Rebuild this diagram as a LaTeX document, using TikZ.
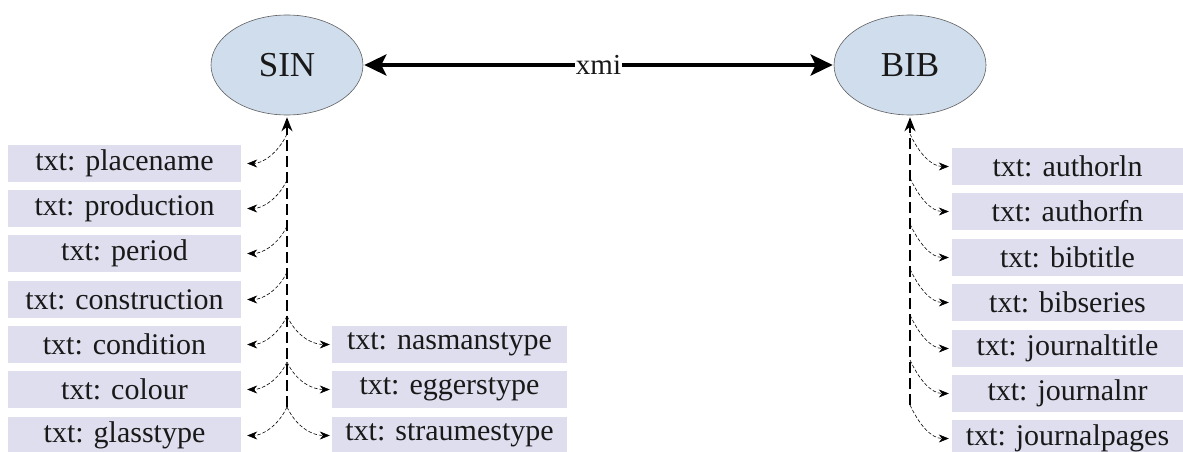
\documentclass[tikz,border=0pt]{standalone}
\usepackage{fontspec}
\setmainfont{Liberation Serif}
\usetikzlibrary{arrows.meta,shapes.geometric}
\definecolor{boxfill}{RGB}{223,222,238}
\definecolor{ellfill}{RGB}{208,221,237}
\definecolor{ellline}{RGB}{95,95,95}
\definecolor{ink}{RGB}{25,25,25}
\begin{document}
\begin{tikzpicture}[x=1pt,y=1pt,
  ent/.style={ellipse, draw=ellline, line width=0.6pt, fill=ellfill, minimum width=152pt, minimum height=100pt, inner sep=0pt, text=ink, font=\fontsize{35}{38}\selectfont},
  attr/.style={fill=boxfill, minimum height=37pt, inner sep=0pt, text=ink, font=\fontsize{30}{32}\selectfont},
  lbox/.style={attr, minimum width=233pt},
  rbox/.style={attr, minimum width=235pt},
  bbox/.style={attr, minimum width=231pt},
  spine/.style={line width=1.6pt, dash pattern=on 11pt off 5pt, -{Stealth[length=14pt,width=11pt]}, shorten >=2pt},
  linkl/.style={line width=0.6pt, dash pattern=on 3.5pt off 2pt, -{Stealth[length=10pt,width=8pt]}, shorten >=6pt},
  linkr/.style={line width=0.6pt, dash pattern=on 3.5pt off 2pt, -{Stealth[length=10pt,width=8pt]}, shorten >=2pt},
  linkb/.style={line width=0.6pt, dash pattern=on 3.5pt off 2pt, -{Stealth[length=10pt,width=8pt]}, shorten >=3pt},
  xmiarrow/.style={line width=4pt, {Stealth[length=22pt,width=21pt,inset=5pt]}-{Stealth[length=22pt,width=21pt,inset=5pt]}, shorten <=1pt, shorten >=1pt},
  xmilabel/.style={fill=white, inner sep=1pt, text=ink, font=\fontsize{29}{31}\selectfont}
]
\useasboundingbox (0,0) rectangle (1183,-452);

% entities
\node[ent] (sin) at (287,-65) {SIN};
\node[ent] (bib) at (910,-65) {BIB};
\draw[xmiarrow] (sin) -- node[xmilabel] {xmi} (bib);

% SIN attributes
\node[lbox] (pl) at (124.5,-163.5) {txt: placename};
\node[lbox] (pr) at (124.5,-208.5) {txt: production};
\node[lbox] (pe) at (124.5,-253.5) {txt: period};
\node[lbox] (co) at (124.5,-299.5) {txt: construction};
\node[lbox] (cd) at (124.5,-344.5) {txt: condition};
\node[lbox] (cl) at (124.5,-389.5) {txt: colour};
\node[lbox] (gl) at (124.5,-435.5) {txt: glasstype};
\node[rbox] (na) at (449.5,-344.5) {txt: nasmanstype};
\node[rbox] (eg) at (449.5,-389.5) {txt: eggerstype};
\node[rbox] (st) at (449.5,-435.5) {txt: straumestype};

\coordinate (s1) at (287,-134);
\coordinate (s2) at (287,-180);
\coordinate (s3) at (287,-226);
\coordinate (s4) at (287,-272);
\coordinate (s5) at (287,-316);
\coordinate (s6) at (287,-362);
\coordinate (s7) at (287,-407);

\draw[spine] (s7) -- (sin.south);
\draw[linkl] (s1) to[out=-115,in=0] (pl.east);
\draw[linkl] (s2) to[out=-115,in=0] (pr.east);
\draw[linkl] (s3) to[out=-115,in=0] (pe.east);
\draw[linkl] (s4) to[out=-115,in=0] (co.east);
\draw[linkl] (s5) to[out=-115,in=0] (cd.east);
\draw[linkl] (s6) to[out=-115,in=0] (cl.east);
\draw[linkl] (s7) to[out=-115,in=0] (gl.east);
\draw[linkr] (s5) to[out=-65,in=180] (na.west);
\draw[linkr] (s6) to[out=-65,in=180] (eg.west);
\draw[linkr] (s7) to[out=-65,in=180] (st.west);

% BIB attributes
\node[bbox] (al) at (1067.5,-166.5) {txt: authorln};
\node[bbox] (af) at (1067.5,-211.5) {txt: authorfn};
\node[bbox] (bt) at (1067.5,-257.5) {txt: bibtitle};
\node[bbox] (bs) at (1067.5,-302.5) {txt: bibseries};
\node[bbox] (jt) at (1067.5,-348.5) {txt: journaltitle};
\node[bbox] (jn) at (1067.5,-393.5) {txt: journalnr};
\node[bbox] (jp) at (1067.5,-438.5) {txt: journalpages};

\coordinate (b1) at (910,-134);
\coordinate (b2) at (910,-178);
\coordinate (b3) at (910,-224);
\coordinate (b4) at (910,-269);
\coordinate (b5) at (910,-315);
\coordinate (b6) at (910,-360);
\coordinate (b7) at (910,-405);

\draw[spine] (b7) -- (bib.south);
\draw[linkb] (b1) to[out=-65,in=180] (al.west);
\draw[linkb] (b2) to[out=-65,in=180] (af.west);
\draw[linkb] (b3) to[out=-65,in=180] (bt.west);
\draw[linkb] (b4) to[out=-65,in=180] (bs.west);
\draw[linkb] (b5) to[out=-65,in=180] (jt.west);
\draw[linkb] (b6) to[out=-65,in=180] (jn.west);
\draw[linkb] (b7) to[out=-65,in=180] (jp.west);
\end{tikzpicture}
\end{document}
